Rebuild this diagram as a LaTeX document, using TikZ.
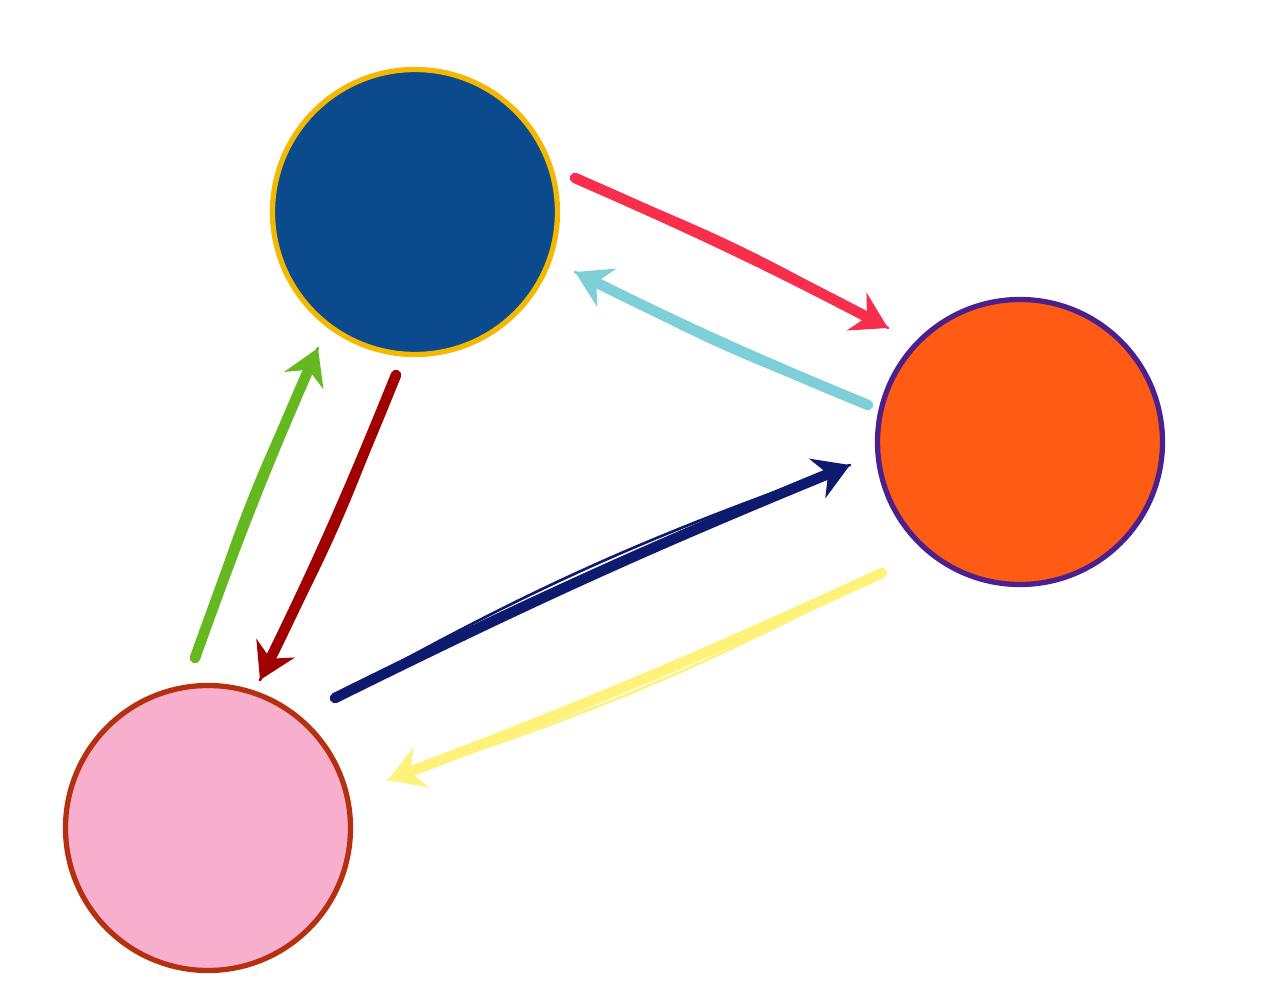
\documentclass[tikz,border=0pt]{standalone}
\usetikzlibrary{arrows.meta}
\definecolor{bluefill}{HTML}{0B4A8C}
\definecolor{blueedge}{HTML}{F5B800}
\definecolor{orangefill}{HTML}{FF5B14}
\definecolor{orangeedge}{HTML}{4B1F8C}
\definecolor{pinkfill}{HTML}{F8AECD}
\definecolor{pinkedge}{HTML}{B5300F}
\definecolor{redarrow}{HTML}{F72F4D}
\definecolor{cyanarrow}{HTML}{7FCFD8}
\definecolor{navyarrow}{HTML}{0E1A6E}
\definecolor{yellowarrow}{HTML}{FFF27A}
\definecolor{greenarrow}{HTML}{66B821}
\definecolor{darkredarrow}{HTML}{A00000}
\tikzset{
    blob/.style={circle,line width=3pt,minimum size=5.7cm,inner sep=0pt},
    brush/.style={line width=6pt,line cap=round,-{Stealth[length=20pt,width=24pt]}},
    hair/.style={line width=1.5pt,line cap=round},
}
\begin{document}
\begin{tikzpicture}
    \useasboundingbox (0,0) rectangle (25.6,19.62);
    %circles
    \node[blob,draw=blueedge,fill=bluefill] (blue) at (8.30,15.38) {};
    \node[blob,draw=orangeedge,fill=orangefill] (orange) at (20.40,10.78) {};
    \node[blob,draw=pinkedge,fill=pinkfill] (pink) at (4.16,3.06) {};
    %arrow ends
    \coordinate (r1) at (11.50,16.06); \coordinate (r2) at (17.76,13.06);
    \coordinate (c1) at (17.36,11.52); \coordinate (c2) at (11.50,14.18);
    \coordinate (n1) at (6.70,5.66);   \coordinate (n2) at (17.00,10.32);
    \coordinate (y1) at (17.64,8.16);  \coordinate (y2) at (7.76,4.02);
    \coordinate (g1) at (3.90,6.46);   \coordinate (g2) at (6.36,12.66);
    \coordinate (d1) at (7.92,12.12);  \coordinate (d2) at (5.20,6.02);
    %arrows
    \draw[brush,redarrow] (r1) to[bend left=2] (r2);
    \draw[hair,redarrow] (r1) to[bend left=5] (r2);
    \draw[brush,cyanarrow] (c1) to[bend left=2] (c2);
    \draw[hair,cyanarrow] (c1) to[bend left=5] (c2);
    \draw[brush,navyarrow] (n1) to[bend left=2] (n2);
    \draw[hair,navyarrow] (n1) to[bend left=5] (n2);
    \draw[brush,yellowarrow] (y1) to[bend left=2] (y2);
    \draw[hair,yellowarrow] (y1) to[bend left=5] (y2);
    \draw[brush,greenarrow] (g1) to[bend left=2] (g2);
    \draw[hair,greenarrow] (g1) to[bend left=5] (g2);
    \draw[brush,darkredarrow] (d1) to[bend left=2] (d2);
    \draw[hair,darkredarrow] (d1) to[bend left=5] (d2);
\end{tikzpicture}
\end{document}
